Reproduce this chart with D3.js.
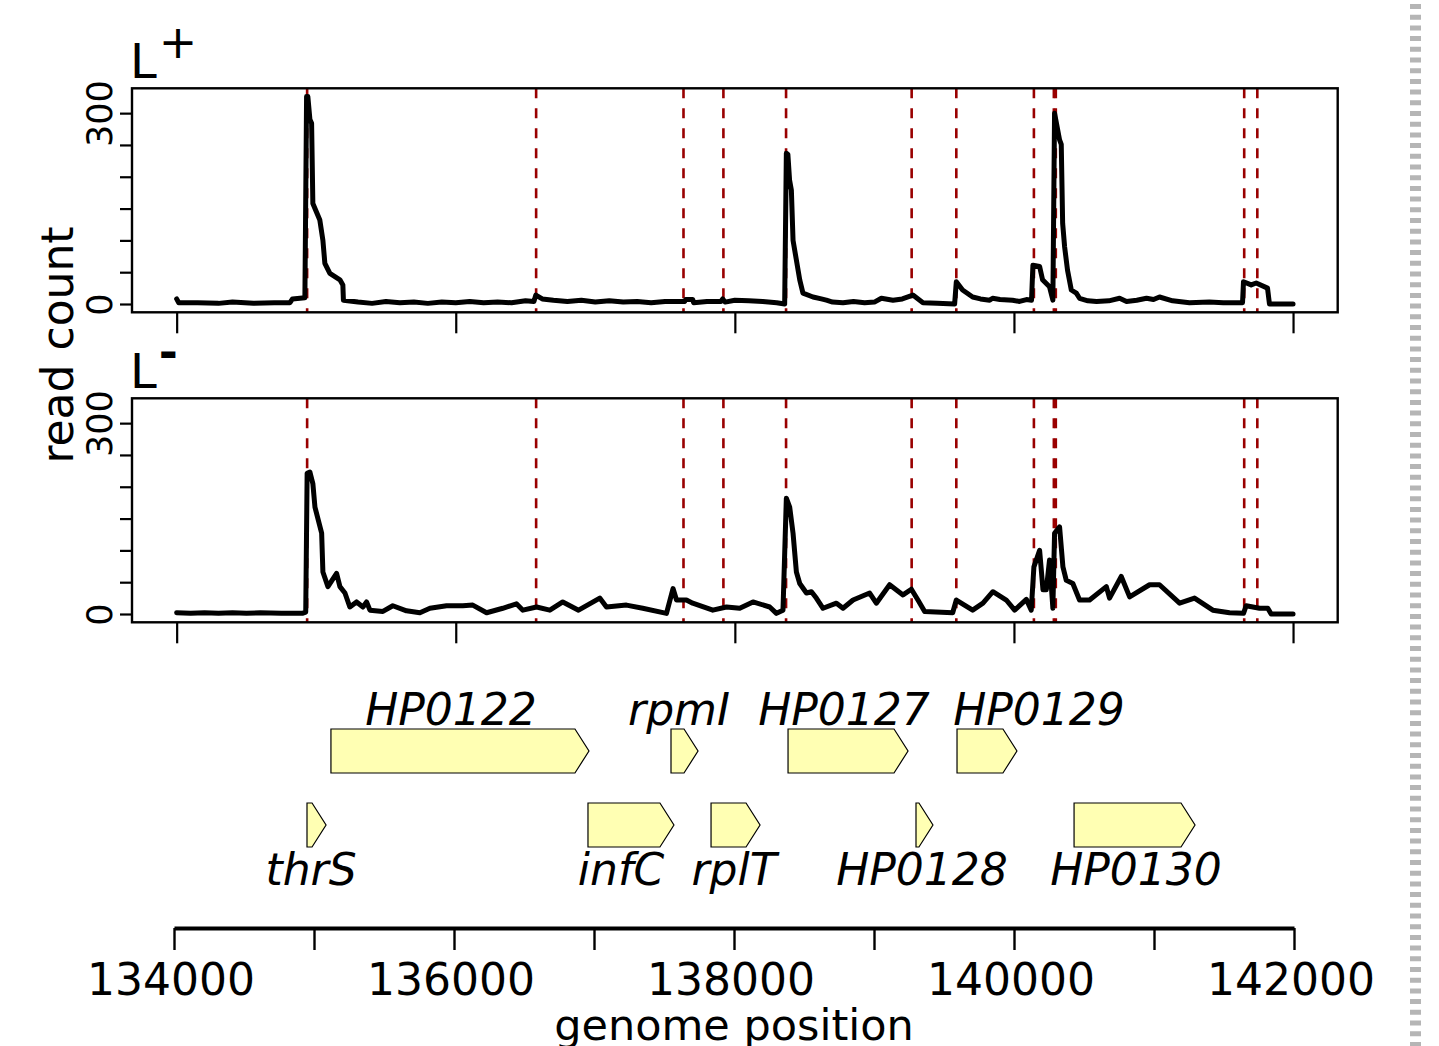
<!DOCTYPE html>
<html>
<head>
<meta charset="utf-8">
<script src="https://cdn.jsdelivr.net/npm/d3@7"></script>
<style>
  html, body { margin: 0; padding: 0; background: #fff; }
  svg { display: block; }
  text { font-family: "DejaVu Sans", sans-serif; }
</style>
</head>
<body>
<svg id="chart" width="1439" height="1046"></svg>
<script>
// ---------------- DATA ----------------
const panelTitles = ["L", "L"];
const panelSup = ["+", "-"];
const yTickValues = [0, 50, 100, 150, 200, 250, 300];
const yTickLabels = ["0", "", "", "", "", "", "300"];
const panelXTicks = [134000, 136000, 138000, 140000, 142000];
const genomeTicks = [134000, 135000, 136000, 137000, 138000, 139000, 140000, 141000, 142000];
const genomeTickLabels = ["134000", "", "136000", "", "138000", "", "140000", "", "142000"];
const yMax = 326;

// TSS positions (dashed red lines)
const tssPositions = [134935, 136576, 137632, 137918, 138367, 139267, 139587, 140143, 140286, 140300, 141650, 141744];

// read counts L+ : [genome position, count]
const lPlus = [
  [134000, 8], [134015, 2], [134150, 2], [134300, 1], [134400, 3], [134550, 1], [134700, 2], [134812, 2],
  [134830, 8], [134919, 10], [134931, 326], [134940, 326],
  [134955, 290], [134967, 284], [134976, 158], [135026, 132], [135048, 100], [135062, 64], [135098, 48],
  [135170, 38], [135191, 30], [135195, 6], [135300, 3], [135400, 1], [135500, 4], [135600, 2], [135700, 3],
  [135800, 1], [135900, 3], [136000, 2], [136100, 4], [136200, 2], [136300, 3], [136400, 2], [136500, 5],
  [136560, 4], [136574, 14], [136620, 8], [136700, 6], [136800, 4], [136900, 6], [137000, 3], [137100, 5],
  [137200, 3], [137300, 4], [137400, 2], [137500, 4],
  [137640, 4], [137648, 7], [137698, 7], [137705, 2], [137800, 4], [137900, 4], [137913, 8], [137930, 3],
  [138000, 6], [138100, 5], [138200, 4], [138300, 2], [138357, 0], [138369, 237], [138380, 235], [138392, 195],
  [138405, 179], [138417, 100],
  [138441, 69], [138465, 38], [138488, 17], [138560, 11], [138620, 8], [138656, 6], [138700, 3], [138775, 2],
  [138850, 4], [138930, 2], [139000, 3], [139050, 9],
  [139133, 6], [139200, 8], [139276, 14], [139348, 2], [139450, 1], [139575, 0], [139587, 35], [139632, 22],
  [139704, 11], [139760, 8], [139826, 6],
  [139847, 9], [139900, 7], [139990, 6], [140040, 4], [140090, 7], [140126, 6], [140136, 61], [140184, 59],
  [140205, 38], [140255, 27],
  [140279, 6], [140291, 300], [140327, 258], [140339, 251], [140349, 127], [140363, 90], [140384, 53],
  [140411, 22], [140447, 17], [140470, 9], [140530, 5], [140592, 4], [140680, 5], [140757, 9], [140807, 4],
  [140880, 6], [140950, 9], [141000, 7], [141043, 11],
  [141137, 5], [141258, 2], [141400, 3], [141500, 2], [141638, 2], [141645, 35], [141700, 30], [141736, 33],
  [141817, 25], [141831, 0], [142000, 0]
];

// read counts L- : [genome position, count]
const lMinus = [
  [134000, 2], [134100, 1], [134200, 2], [134300, 1], [134400, 2], [134500, 1], [134600, 2], [134750, 1],
  [134900, 1], [134925, 3], [134935, 221], [134955, 223],
  [134976, 205], [134991, 168], [135039, 127], [135048, 66], [135084, 43], [135146, 64], [135170, 43],
  [135206, 33], [135241, 11], [135289, 19], [135335, 11], [135361, 19], [135385, 6], [135478, 4], [135549, 13],
  [135647, 5], [135743, 2], [135815, 9], [135934, 13], [136051, 13], [136122, 14], [136221, 2], [136337, 9],
  [136435, 16], [136481, 6], [136579, 11], [136674, 6], [136767, 19], [136880, 6], [137032, 25], [137080, 11],
  [137223, 14], [137340, 9], [137510, 1], [137557, 40], [137582, 22], [137653, 22], [137698, 17], [137842, 6],
  [137940, 11], [138035, 9], [138130, 19], [138250, 11], [138298, 1], [138345, 6], [138369, 182], [138393, 168],
  [138417, 127], [138441, 66], [138465, 48], [138513, 33], [138549, 35], [138584, 25], [138632, 9], [138728, 17],
  [138775, 9], [138847, 22], [138966, 33], [139014, 17], [139109, 46], [139205, 30], [139265, 39], [139312, 22],
  [139360, 4], [139561, 2], [139587, 22], [139704, 6], [139778, 17], [139849, 35], [139945, 22], [140005, 6],
  [140089, 23], [140124, 6], [140143, 74], [140184, 100], [140208, 38], [140232, 38], [140255, 85], [140279, 9],
  [140291, 127], [140327, 137], [140351, 74], [140375, 53], [140422, 48], [140470, 22], [140542, 22],
  [140662, 43], [140685, 25], [140769, 59], [140829, 27], [140972, 46], [141043, 46], [141187, 17], [141294, 25],
  [141425, 6], [141545, 2], [141645, 1], [141664, 13], [141760, 9], [141819, 9], [141843, 0], [142000, 0]
];

// genes: name, start, end, row, label anchor (genome position)
const geneNames = ["HP0122", "rpmI", "HP0127", "HP0129", "thrS", "infC", "rplT", "HP0128", "HP0130"];
const geneStarts = [135121, 137550, 138386, 139593, 134950, 136957, 137836, 139300, 140429];
const geneEnds = [136964, 137743, 139243, 140021, 135086, 137571, 138186, 139421, 141293];
const geneRows = [0, 0, 0, 0, 1, 1, 1, 1, 1];
const geneLabelPos = [135979, 137607, 138786, 140179, 134979, 137193, 138000, 139343, 140871];

// ---------------- DRAW ----------------
const svg = d3.select("#chart");
const W = 1439, H = 1046;

const x = d3.scaleLinear().domain([134000 - 0.04 * 8000, 142000 + 0.04 * 8000]).range([132, 1337.7]);
const yDomain = [-0.04 * yMax, yMax * 1.04];
const panels = [
  { data: lPlus, top: 88.3, bottom: 312.3 },
  { data: lMinus, top: 398.3, bottom: 622.3 }
];

panels.forEach((p, i) => {
  const y = d3.scaleLinear().domain(yDomain).range([p.bottom, p.top]);
  const g = svg.append("g");

  // dashed TSS lines
  g.selectAll("line.tss").data(tssPositions).join("line")
    .attr("x1", d => x(d)).attr("x2", d => x(d))
    .attr("y1", p.top).attr("y2", p.bottom)
    .attr("stroke", "#990000").attr("stroke-width", 2.6)
    .attr("stroke-dasharray", "10,10");

  // trace
  const line = d3.line().x(d => x(d[0])).y(d => y(d[1]));
  g.append("path").datum(p.data).attr("d", line)
    .attr("fill", "none").attr("stroke", "#000").attr("stroke-width", 5)
    .attr("stroke-linejoin", "round").attr("stroke-linecap", "round");

  // box
  g.append("rect").attr("x", 132).attr("y", p.top)
    .attr("width", 1337.7 - 132).attr("height", p.bottom - p.top)
    .attr("fill", "none").attr("stroke", "#000").attr("stroke-width", 2.4);

  // x ticks (no labels)
  const xa = g.append("g").attr("transform", `translate(0,${p.bottom})`)
    .call(d3.axisBottom(x).tickValues(panelXTicks).tickSize(21).tickFormat(""));
  xa.select(".domain").remove();
  xa.selectAll("line").attr("stroke-width", 2.2);

  // y ticks
  const ya = g.append("g").attr("transform", `translate(132,0)`)
    .call(d3.axisLeft(y).tickValues(yTickValues).tickSize(12).tickFormat((d, k) => yTickLabels[k]));
  ya.select(".domain").remove();
  ya.selectAll("line").attr("stroke-width", 2.2);
  ya.selectAll("text")
    .attr("x", null).attr("dy", null)
    .attr("text-anchor", "middle")
    .attr("font-size", 35).attr("fill", "#000")
    .attr("font-family", "DejaVu Sans")
    .attr("transform", "translate(-20,0) rotate(-90)")
    .attr("y", 0);

  // title
  const t = svg.append("text").attr("x", 130).attr("y", p.top - 10)
    .attr("font-size", 48).attr("fill", "#000");
  t.append("tspan").text(panelTitles[i]);
  t.append("tspan").attr("dy", -20).attr("dx", 2).attr("font-size", 46)
    .attr("font-weight", i === 1 ? "bold" : "normal").text(panelSup[i]);
});

// y-axis title
svg.append("text").attr("transform", "translate(73,345) rotate(-90)")
  .attr("text-anchor", "middle").attr("font-size", 44).text("read count");

// genome axis
const gx = d3.scaleLinear().domain([134000, 142000]).range([174, 1294]);
const ga = svg.append("g").attr("transform", "translate(0,928)")
  .call(d3.axisBottom(gx).tickValues(genomeTicks).tickSize(22).tickSizeOuter(0).tickFormat(""));
ga.select(".domain").attr("stroke-width", 4);
ga.selectAll(".tick line").attr("stroke-width", 2.4);
svg.append("g").selectAll("text").data(genomeTicks).join("text")
  .attr("x", d => gx(d) - 3).attr("y", 995)
  .attr("text-anchor", "middle").attr("font-size", 44)
  .text((d, k) => genomeTickLabels[k]);
svg.append("text").attr("x", 734).attr("y", 1040).attr("text-anchor", "middle")
  .attr("font-size", 43).text("genome position");

// genes
const rowTop = [729, 803], rowH = 44, headBp = 100;
const genes = geneNames.map((n, k) => ({ name: n, s: geneStarts[k], e: geneEnds[k], row: geneRows[k], lp: geneLabelPos[k] }));
const gg = svg.append("g");
gg.selectAll("path").data(genes).join("path")
  .attr("d", d => {
    const x0 = gx(d.s), x1 = gx(d.e);
    const xb = gx(Math.max(d.s, d.e - headBp));
    const t = rowTop[d.row], b = t + rowH, m = t + rowH / 2;
    return `M${x0},${t}L${xb},${t}L${x1},${m}L${xb},${b}L${x0},${b}Z`;
  })
  .attr("fill", "#ffffb3").attr("stroke", "#000").attr("stroke-width", 1.2);
gg.selectAll("text").data(genes).join("text")
  .attr("x", d => gx(d.lp)).attr("y", d => d.row === 0 ? 725 : 885)
  .attr("text-anchor", "middle").attr("font-size", 44).attr("font-style", "italic")
  .text(d => d.name);

// right-hand dotted separator
svg.append("line").attr("x1", 1415.5).attr("x2", 1415.5).attr("y1", 0).attr("y2", H)
  .attr("stroke", "#b5b5b5").attr("stroke-width", 11)
  .attr("stroke-dasharray", "5,5.7").attr("stroke-dashoffset", -4);
</script>
</body>
</html>
